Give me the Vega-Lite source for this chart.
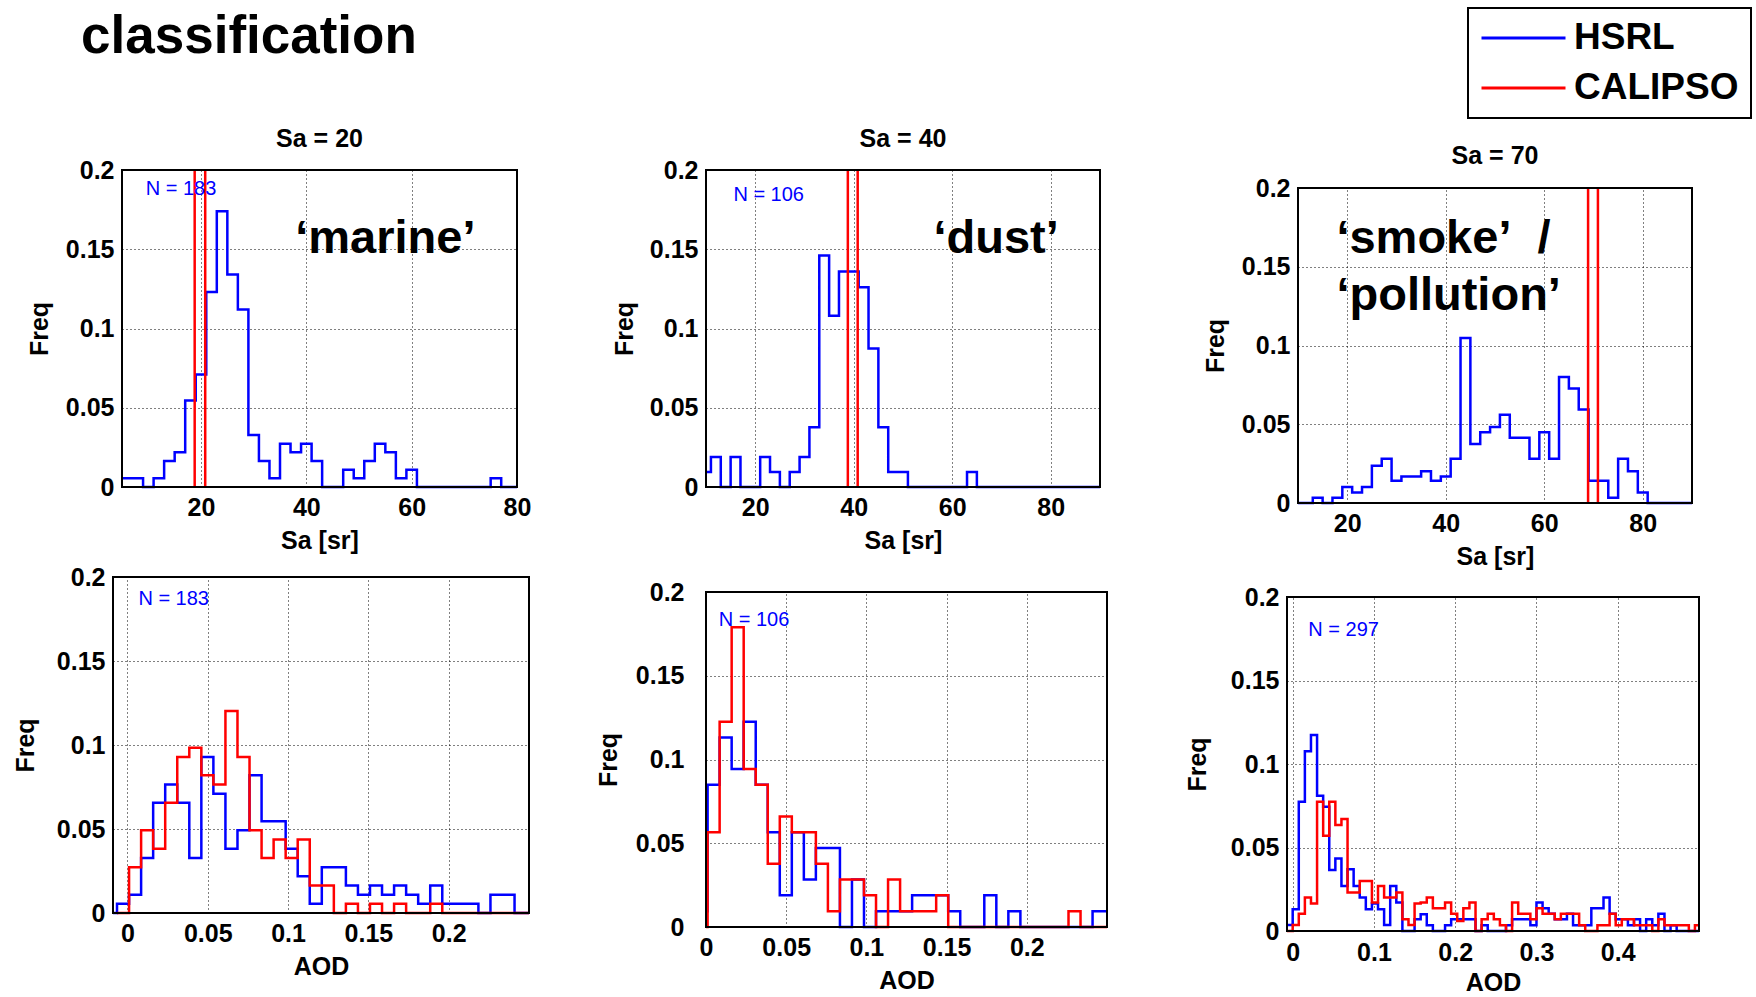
{
"$schema": "https://vega.github.io/schema/vega-lite/v6.json",
"width": 1756, "height": 997, "autosize": {"type": "none"}, "padding": 0, "background": "white",
"config": {
 "view": {"stroke": null},
 "axis": {"labelFont": "Liberation Sans", "labelFontSize": 25, "labelFontWeight": "bold", "labelColor": "black", "titleFont": "Liberation Sans", "titleFontSize": 25, "titleFontWeight": "bold", "titleColor": "black", "gridColor": "#000000", "gridDash": [1, 3], "gridOpacity": 1, "gridWidth": 1, "ticks": false, "domain": false, "labelFlush": false, "labelOverlap": false, "labelPadding": 8, "titlePadding": 8},
 "legend": {"strokeWidth": 2},
 "text": {"font": "Liberation Sans"}
},
"datasets": {
 "rules": [
  {"panel":"p1","series":"CALIPSO","x":18.8},{"panel":"p1","series":"CALIPSO","x":20.8},
  {"panel":"p2","series":"CALIPSO","x":38.8},{"panel":"p2","series":"CALIPSO","x":40.8},
  {"panel":"p3","series":"CALIPSO","x":68.9},{"panel":"p3","series":"CALIPSO","x":70.9}
 ],
 "hist": [
  {"panel":"p1","series":"HSRL","x":5,"y":0.0055},{"panel":"p1","series":"HSRL","x":9,"y":0},{"panel":"p1","series":"HSRL","x":11,"y":0.0055},{"panel":"p1","series":"HSRL","x":13,"y":0.0164},{"panel":"p1","series":"HSRL","x":15,"y":0.0219},{"panel":"p1","series":"HSRL","x":17,"y":0.0546},{"panel":"p1","series":"HSRL","x":19,"y":0.071},{"panel":"p1","series":"HSRL","x":21,"y":0.123},{"panel":"p1","series":"HSRL","x":23,"y":0.174},{"panel":"p1","series":"HSRL","x":25,"y":0.134},{"panel":"p1","series":"HSRL","x":27,"y":0.112},{"panel":"p1","series":"HSRL","x":29,"y":0.0328},{"panel":"p1","series":"HSRL","x":31,"y":0.0164},{"panel":"p1","series":"HSRL","x":33,"y":0.0055},{"panel":"p1","series":"HSRL","x":35,"y":0.0273},{"panel":"p1","series":"HSRL","x":37,"y":0.0219},{"panel":"p1","series":"HSRL","x":39,"y":0.0273},{"panel":"p1","series":"HSRL","x":41,"y":0.0164},{"panel":"p1","series":"HSRL","x":43,"y":0},{"panel":"p1","series":"HSRL","x":47,"y":0.0109},{"panel":"p1","series":"HSRL","x":49,"y":0.0055},{"panel":"p1","series":"HSRL","x":51,"y":0.0164},{"panel":"p1","series":"HSRL","x":53,"y":0.0273},{"panel":"p1","series":"HSRL","x":55,"y":0.0219},{"panel":"p1","series":"HSRL","x":57,"y":0.0055},{"panel":"p1","series":"HSRL","x":59,"y":0.0109},{"panel":"p1","series":"HSRL","x":61,"y":0},{"panel":"p1","series":"HSRL","x":75,"y":0.0055},{"panel":"p1","series":"HSRL","x":77,"y":0},{"panel":"p1","series":"HSRL","x":80,"y":0},

  {"panel":"p2","series":"HSRL","x":10,"y":0.0094},{"panel":"p2","series":"HSRL","x":11,"y":0.0189},{"panel":"p2","series":"HSRL","x":13,"y":0},{"panel":"p2","series":"HSRL","x":15,"y":0.0189},{"panel":"p2","series":"HSRL","x":17,"y":0},{"panel":"p2","series":"HSRL","x":21,"y":0.0189},{"panel":"p2","series":"HSRL","x":23,"y":0.0094},{"panel":"p2","series":"HSRL","x":25,"y":0},{"panel":"p2","series":"HSRL","x":27,"y":0.0094},{"panel":"p2","series":"HSRL","x":29,"y":0.0189},{"panel":"p2","series":"HSRL","x":31,"y":0.0377},{"panel":"p2","series":"HSRL","x":33,"y":0.146},{"panel":"p2","series":"HSRL","x":35,"y":0.108},{"panel":"p2","series":"HSRL","x":37,"y":0.136},{"panel":"p2","series":"HSRL","x":41,"y":0.126},{"panel":"p2","series":"HSRL","x":43,"y":0.0874},{"panel":"p2","series":"HSRL","x":45,"y":0.0377},{"panel":"p2","series":"HSRL","x":47,"y":0.0094},{"panel":"p2","series":"HSRL","x":51,"y":0},{"panel":"p2","series":"HSRL","x":63,"y":0.0094},{"panel":"p2","series":"HSRL","x":65,"y":0},{"panel":"p2","series":"HSRL","x":90,"y":0},

  {"panel":"p3","series":"HSRL","x":10,"y":0},{"panel":"p3","series":"HSRL","x":13,"y":0.0034},{"panel":"p3","series":"HSRL","x":15,"y":0},{"panel":"p3","series":"HSRL","x":17,"y":0.0034},{"panel":"p3","series":"HSRL","x":19,"y":0.0101},{"panel":"p3","series":"HSRL","x":21,"y":0.0067},{"panel":"p3","series":"HSRL","x":23,"y":0.0101},{"panel":"p3","series":"HSRL","x":25,"y":0.0236},{"panel":"p3","series":"HSRL","x":27,"y":0.0281},{"panel":"p3","series":"HSRL","x":29,"y":0.0141},{"panel":"p3","series":"HSRL","x":31,"y":0.0168},{"panel":"p3","series":"HSRL","x":35,"y":0.0202},{"panel":"p3","series":"HSRL","x":37,"y":0.0141},{"panel":"p3","series":"HSRL","x":39,"y":0.0168},{"panel":"p3","series":"HSRL","x":41,"y":0.0281},{"panel":"p3","series":"HSRL","x":43,"y":0.1047},{"panel":"p3","series":"HSRL","x":45,"y":0.0375},{"panel":"p3","series":"HSRL","x":47,"y":0.0449},{"panel":"p3","series":"HSRL","x":49,"y":0.0482},{"panel":"p3","series":"HSRL","x":51,"y":0.056},{"panel":"p3","series":"HSRL","x":53,"y":0.0415},{"panel":"p3","series":"HSRL","x":57,"y":0.0281},{"panel":"p3","series":"HSRL","x":59,"y":0.0449},{"panel":"p3","series":"HSRL","x":61,"y":0.0281},{"panel":"p3","series":"HSRL","x":63,"y":0.08},{"panel":"p3","series":"HSRL","x":65,"y":0.0727},{"panel":"p3","series":"HSRL","x":67,"y":0.0593},{"panel":"p3","series":"HSRL","x":69,"y":0.0141},{"panel":"p3","series":"HSRL","x":73,"y":0.0034},{"panel":"p3","series":"HSRL","x":75,"y":0.0281},{"panel":"p3","series":"HSRL","x":77,"y":0.0202},{"panel":"p3","series":"HSRL","x":79,"y":0.0067},{"panel":"p3","series":"HSRL","x":81,"y":0},{"panel":"p3","series":"HSRL","x":90,"y":0},

  {"panel":"p4","series":"HSRL","x":-0.009,"y":0},{"panel":"p4","series":"HSRL","x":-0.0065,"y":0.0055},{"panel":"p4","series":"HSRL","x":0.001,"y":0.0109},{"panel":"p4","series":"HSRL","x":0.0085,"y":0.0328},{"panel":"p4","series":"HSRL","x":0.016,"y":0.0656},{"panel":"p4","series":"HSRL","x":0.0235,"y":0.0765},{"panel":"p4","series":"HSRL","x":0.031,"y":0.0656},{"panel":"p4","series":"HSRL","x":0.0385,"y":0.0328},{"panel":"p4","series":"HSRL","x":0.046,"y":0.0929},{"panel":"p4","series":"HSRL","x":0.0535,"y":0.071},{"panel":"p4","series":"HSRL","x":0.061,"y":0.0383},{"panel":"p4","series":"HSRL","x":0.0685,"y":0.0492},{"panel":"p4","series":"HSRL","x":0.076,"y":0.082},{"panel":"p4","series":"HSRL","x":0.0835,"y":0.0546},{"panel":"p4","series":"HSRL","x":0.091,"y":0.0546},{"panel":"p4","series":"HSRL","x":0.0985,"y":0.0383},{"panel":"p4","series":"HSRL","x":0.106,"y":0.0219},{"panel":"p4","series":"HSRL","x":0.1135,"y":0.0055},{"panel":"p4","series":"HSRL","x":0.121,"y":0.0273},{"panel":"p4","series":"HSRL","x":0.1285,"y":0.0273},{"panel":"p4","series":"HSRL","x":0.136,"y":0.0164},{"panel":"p4","series":"HSRL","x":0.1435,"y":0.0109},{"panel":"p4","series":"HSRL","x":0.151,"y":0.0164},{"panel":"p4","series":"HSRL","x":0.1585,"y":0.0109},{"panel":"p4","series":"HSRL","x":0.166,"y":0.0164},{"panel":"p4","series":"HSRL","x":0.1735,"y":0.0109},{"panel":"p4","series":"HSRL","x":0.181,"y":0.0055},{"panel":"p4","series":"HSRL","x":0.1885,"y":0.0164},{"panel":"p4","series":"HSRL","x":0.196,"y":0.0055},{"panel":"p4","series":"HSRL","x":0.2035,"y":0.0055},{"panel":"p4","series":"HSRL","x":0.211,"y":0.0055},{"panel":"p4","series":"HSRL","x":0.2185,"y":0},{"panel":"p4","series":"HSRL","x":0.226,"y":0.0109},{"panel":"p4","series":"HSRL","x":0.2335,"y":0.0109},{"panel":"p4","series":"HSRL","x":0.241,"y":0},{"panel":"p4","series":"HSRL","x":0.25,"y":0},

  {"panel":"p4","series":"CALIPSO","x":-0.0065,"y":0},{"panel":"p4","series":"CALIPSO","x":0.001,"y":0.0273},{"panel":"p4","series":"CALIPSO","x":0.0085,"y":0.0492},{"panel":"p4","series":"CALIPSO","x":0.016,"y":0.0383},{"panel":"p4","series":"CALIPSO","x":0.0235,"y":0.0656},{"panel":"p4","series":"CALIPSO","x":0.031,"y":0.0929},{"panel":"p4","series":"CALIPSO","x":0.0385,"y":0.0984},{"panel":"p4","series":"CALIPSO","x":0.046,"y":0.082},{"panel":"p4","series":"CALIPSO","x":0.0535,"y":0.0765},{"panel":"p4","series":"CALIPSO","x":0.061,"y":0.1202},{"panel":"p4","series":"CALIPSO","x":0.0685,"y":0.0929},{"panel":"p4","series":"CALIPSO","x":0.076,"y":0.0492},{"panel":"p4","series":"CALIPSO","x":0.0835,"y":0.0328},{"panel":"p4","series":"CALIPSO","x":0.091,"y":0.0437},{"panel":"p4","series":"CALIPSO","x":0.0985,"y":0.0328},{"panel":"p4","series":"CALIPSO","x":0.106,"y":0.0437},{"panel":"p4","series":"CALIPSO","x":0.1135,"y":0.0164},{"panel":"p4","series":"CALIPSO","x":0.121,"y":0.0164},{"panel":"p4","series":"CALIPSO","x":0.1285,"y":0},{"panel":"p4","series":"CALIPSO","x":0.136,"y":0.0055},{"panel":"p4","series":"CALIPSO","x":0.1435,"y":0},{"panel":"p4","series":"CALIPSO","x":0.151,"y":0.0055},{"panel":"p4","series":"CALIPSO","x":0.1585,"y":0},{"panel":"p4","series":"CALIPSO","x":0.166,"y":0.0055},{"panel":"p4","series":"CALIPSO","x":0.1735,"y":0},{"panel":"p4","series":"CALIPSO","x":0.1885,"y":0.0055},{"panel":"p4","series":"CALIPSO","x":0.196,"y":0},{"panel":"p4","series":"CALIPSO","x":0.25,"y":0},

  {"panel":"p5","series":"HSRL","x":0,"y":0.0094},{"panel":"p5","series":"HSRL","x":0.001,"y":0.0849},{"panel":"p5","series":"HSRL","x":0.0085,"y":0.1132},{"panel":"p5","series":"HSRL","x":0.016,"y":0.0943},{"panel":"p5","series":"HSRL","x":0.0235,"y":0.1226},{"panel":"p5","series":"HSRL","x":0.031,"y":0.0849},{"panel":"p5","series":"HSRL","x":0.0385,"y":0.0566},{"panel":"p5","series":"HSRL","x":0.046,"y":0.0189},{"panel":"p5","series":"HSRL","x":0.0535,"y":0.0566},{"panel":"p5","series":"HSRL","x":0.061,"y":0.0283},{"panel":"p5","series":"HSRL","x":0.0685,"y":0.0472},{"panel":"p5","series":"HSRL","x":0.076,"y":0.0472},{"panel":"p5","series":"HSRL","x":0.0835,"y":0},{"panel":"p5","series":"HSRL","x":0.091,"y":0.0283},{"panel":"p5","series":"HSRL","x":0.0985,"y":0},{"panel":"p5","series":"HSRL","x":0.106,"y":0.0094},{"panel":"p5","series":"HSRL","x":0.1135,"y":0.0094},{"panel":"p5","series":"HSRL","x":0.121,"y":0.0094},{"panel":"p5","series":"HSRL","x":0.1285,"y":0.0189},{"panel":"p5","series":"HSRL","x":0.136,"y":0.0189},{"panel":"p5","series":"HSRL","x":0.1435,"y":0.0189},{"panel":"p5","series":"HSRL","x":0.151,"y":0.0094},{"panel":"p5","series":"HSRL","x":0.1585,"y":0},{"panel":"p5","series":"HSRL","x":0.1735,"y":0.0189},{"panel":"p5","series":"HSRL","x":0.181,"y":0},{"panel":"p5","series":"HSRL","x":0.1885,"y":0.0094},{"panel":"p5","series":"HSRL","x":0.196,"y":0},{"panel":"p5","series":"HSRL","x":0.241,"y":0.0094},{"panel":"p5","series":"HSRL","x":0.25,"y":0.0094},

  {"panel":"p5","series":"CALIPSO","x":0,"y":0},{"panel":"p5","series":"CALIPSO","x":0.001,"y":0.0566},{"panel":"p5","series":"CALIPSO","x":0.0085,"y":0.1226},{"panel":"p5","series":"CALIPSO","x":0.016,"y":0.179},{"panel":"p5","series":"CALIPSO","x":0.0235,"y":0.0943},{"panel":"p5","series":"CALIPSO","x":0.031,"y":0.0849},{"panel":"p5","series":"CALIPSO","x":0.0385,"y":0.0377},{"panel":"p5","series":"CALIPSO","x":0.046,"y":0.066},{"panel":"p5","series":"CALIPSO","x":0.0535,"y":0.0566},{"panel":"p5","series":"CALIPSO","x":0.061,"y":0.0566},{"panel":"p5","series":"CALIPSO","x":0.0685,"y":0.0377},{"panel":"p5","series":"CALIPSO","x":0.076,"y":0.0094},{"panel":"p5","series":"CALIPSO","x":0.0835,"y":0.0283},{"panel":"p5","series":"CALIPSO","x":0.091,"y":0.0283},{"panel":"p5","series":"CALIPSO","x":0.0985,"y":0.0189},{"panel":"p5","series":"CALIPSO","x":0.106,"y":0},{"panel":"p5","series":"CALIPSO","x":0.1135,"y":0.0283},{"panel":"p5","series":"CALIPSO","x":0.121,"y":0.0094},{"panel":"p5","series":"CALIPSO","x":0.1285,"y":0.0094},{"panel":"p5","series":"CALIPSO","x":0.136,"y":0.0094},{"panel":"p5","series":"CALIPSO","x":0.1435,"y":0.0189},{"panel":"p5","series":"CALIPSO","x":0.151,"y":0},{"panel":"p5","series":"CALIPSO","x":0.226,"y":0.0094},{"panel":"p5","series":"CALIPSO","x":0.2335,"y":0},{"panel":"p5","series":"CALIPSO","x":0.25,"y":0},

  {"panel":"p6","series":"HSRL","x":-0.007,"y":0.0036},{"panel":"p6","series":"HSRL","x":0,"y":0.013},{"panel":"p6","series":"HSRL","x":0.0075,"y":0.0774},{"panel":"p6","series":"HSRL","x":0.015,"y":0.1076},{"panel":"p6","series":"HSRL","x":0.0225,"y":0.1174},{"panel":"p6","series":"HSRL","x":0.03,"y":0.081},{"panel":"p6","series":"HSRL","x":0.0375,"y":0.0744},{"panel":"p6","series":"HSRL","x":0.045,"y":0.0366},{"panel":"p6","series":"HSRL","x":0.0525,"y":0.0434},{"panel":"p6","series":"HSRL","x":0.06,"y":0.027},{"panel":"p6","series":"HSRL","x":0.0675,"y":0.037},{"panel":"p6","series":"HSRL","x":0.075,"y":0.027},{"panel":"p6","series":"HSRL","x":0.0825,"y":0.02},{"panel":"p6","series":"HSRL","x":0.09,"y":0.013},{"panel":"p6","series":"HSRL","x":0.0975,"y":0.0164},{"panel":"p6","series":"HSRL","x":0.105,"y":0.013},{"panel":"p6","series":"HSRL","x":0.1125,"y":0.0036},{"panel":"p6","series":"HSRL","x":0.12,"y":0.027},{"panel":"p6","series":"HSRL","x":0.1275,"y":0.017},{"panel":"p6","series":"HSRL","x":0.135,"y":0},{"panel":"p6","series":"HSRL","x":0.15,"y":0.007},{"panel":"p6","series":"HSRL","x":0.1575,"y":0.01},{"panel":"p6","series":"HSRL","x":0.165,"y":0.0034},{"panel":"p6","series":"HSRL","x":0.1725,"y":0},{"panel":"p6","series":"HSRL","x":0.1875,"y":0.0034},{"panel":"p6","series":"HSRL","x":0.195,"y":0.007},{"panel":"p6","series":"HSRL","x":0.2025,"y":0.007},{"panel":"p6","series":"HSRL","x":0.21,"y":0.007},{"panel":"p6","series":"HSRL","x":0.2175,"y":0.007},{"panel":"p6","series":"HSRL","x":0.225,"y":0},{"panel":"p6","series":"HSRL","x":0.2325,"y":0.0034},{"panel":"p6","series":"HSRL","x":0.24,"y":0},{"panel":"p6","series":"HSRL","x":0.2625,"y":0.0034},{"panel":"p6","series":"HSRL","x":0.27,"y":0.007},{"panel":"p6","series":"HSRL","x":0.2775,"y":0.007},{"panel":"p6","series":"HSRL","x":0.285,"y":0.007},{"panel":"p6","series":"HSRL","x":0.2925,"y":0.0034},{"panel":"p6","series":"HSRL","x":0.3,"y":0.017},{"panel":"p6","series":"HSRL","x":0.3075,"y":0.0136},{"panel":"p6","series":"HSRL","x":0.315,"y":0.0104},{"panel":"p6","series":"HSRL","x":0.3225,"y":0.007},{"panel":"p6","series":"HSRL","x":0.33,"y":0.007},{"panel":"p6","series":"HSRL","x":0.3375,"y":0.0104},{"panel":"p6","series":"HSRL","x":0.345,"y":0.0034},{"panel":"p6","series":"HSRL","x":0.3525,"y":0.0034},{"panel":"p6","series":"HSRL","x":0.36,"y":0.0034},{"panel":"p6","series":"HSRL","x":0.3675,"y":0.0136},{"panel":"p6","series":"HSRL","x":0.375,"y":0.0136},{"panel":"p6","series":"HSRL","x":0.3825,"y":0.02},{"panel":"p6","series":"HSRL","x":0.39,"y":0.0104},{"panel":"p6","series":"HSRL","x":0.3975,"y":0.007},{"panel":"p6","series":"HSRL","x":0.405,"y":0.007},{"panel":"p6","series":"HSRL","x":0.4125,"y":0.0034},{"panel":"p6","series":"HSRL","x":0.42,"y":0.007},{"panel":"p6","series":"HSRL","x":0.4275,"y":0},{"panel":"p6","series":"HSRL","x":0.435,"y":0.007},{"panel":"p6","series":"HSRL","x":0.4425,"y":0.0034},{"panel":"p6","series":"HSRL","x":0.45,"y":0.0104},{"panel":"p6","series":"HSRL","x":0.4575,"y":0},{"panel":"p6","series":"HSRL","x":0.465,"y":0.0034},{"panel":"p6","series":"HSRL","x":0.4725,"y":0},{"panel":"p6","series":"HSRL","x":0.5,"y":0},

  {"panel":"p6","series":"CALIPSO","x":-0.007,"y":0},{"panel":"p6","series":"CALIPSO","x":0,"y":0.0036},{"panel":"p6","series":"CALIPSO","x":0.0075,"y":0.0104},{"panel":"p6","series":"CALIPSO","x":0.015,"y":0.02},{"panel":"p6","series":"CALIPSO","x":0.0225,"y":0.0164},{"panel":"p6","series":"CALIPSO","x":0.03,"y":0.0774},{"panel":"p6","series":"CALIPSO","x":0.0375,"y":0.057},{"panel":"p6","series":"CALIPSO","x":0.045,"y":0.0774},{"panel":"p6","series":"CALIPSO","x":0.0525,"y":0.0634},{"panel":"p6","series":"CALIPSO","x":0.06,"y":0.067},{"panel":"p6","series":"CALIPSO","x":0.0675,"y":0.023},{"panel":"p6","series":"CALIPSO","x":0.075,"y":0.023},{"panel":"p6","series":"CALIPSO","x":0.0825,"y":0.03},{"panel":"p6","series":"CALIPSO","x":0.09,"y":0.03},{"panel":"p6","series":"CALIPSO","x":0.0975,"y":0.017},{"panel":"p6","series":"CALIPSO","x":0.105,"y":0.027},{"panel":"p6","series":"CALIPSO","x":0.1125,"y":0.02},{"panel":"p6","series":"CALIPSO","x":0.12,"y":0.02},{"panel":"p6","series":"CALIPSO","x":0.1275,"y":0.023},{"panel":"p6","series":"CALIPSO","x":0.135,"y":0.007},{"panel":"p6","series":"CALIPSO","x":0.1425,"y":0.0036},{"panel":"p6","series":"CALIPSO","x":0.15,"y":0.0164},{"panel":"p6","series":"CALIPSO","x":0.1575,"y":0.017},{"panel":"p6","series":"CALIPSO","x":0.165,"y":0.02},{"panel":"p6","series":"CALIPSO","x":0.1725,"y":0.0136},{"panel":"p6","series":"CALIPSO","x":0.18,"y":0.0136},{"panel":"p6","series":"CALIPSO","x":0.1875,"y":0.017},{"panel":"p6","series":"CALIPSO","x":0.195,"y":0.0104},{"panel":"p6","series":"CALIPSO","x":0.2025,"y":0.006},{"panel":"p6","series":"CALIPSO","x":0.21,"y":0.0136},{"panel":"p6","series":"CALIPSO","x":0.2175,"y":0.017},{"panel":"p6","series":"CALIPSO","x":0.225,"y":0},{"panel":"p6","series":"CALIPSO","x":0.2325,"y":0.007},{"panel":"p6","series":"CALIPSO","x":0.24,"y":0.0104},{"panel":"p6","series":"CALIPSO","x":0.2475,"y":0.007},{"panel":"p6","series":"CALIPSO","x":0.255,"y":0.0034},{"panel":"p6","series":"CALIPSO","x":0.2625,"y":0},{"panel":"p6","series":"CALIPSO","x":0.27,"y":0.017},{"panel":"p6","series":"CALIPSO","x":0.2775,"y":0.0104},{"panel":"p6","series":"CALIPSO","x":0.285,"y":0.0104},{"panel":"p6","series":"CALIPSO","x":0.2925,"y":0.007},{"panel":"p6","series":"CALIPSO","x":0.3,"y":0.0136},{"panel":"p6","series":"CALIPSO","x":0.3075,"y":0.0104},{"panel":"p6","series":"CALIPSO","x":0.315,"y":0.0104},{"panel":"p6","series":"CALIPSO","x":0.3225,"y":0.007},{"panel":"p6","series":"CALIPSO","x":0.33,"y":0.0104},{"panel":"p6","series":"CALIPSO","x":0.3375,"y":0.0104},{"panel":"p6","series":"CALIPSO","x":0.345,"y":0.0104},{"panel":"p6","series":"CALIPSO","x":0.3525,"y":0.0034},{"panel":"p6","series":"CALIPSO","x":0.36,"y":0},{"panel":"p6","series":"CALIPSO","x":0.375,"y":0.0034},{"panel":"p6","series":"CALIPSO","x":0.3825,"y":0.0034},{"panel":"p6","series":"CALIPSO","x":0.39,"y":0.0104},{"panel":"p6","series":"CALIPSO","x":0.3975,"y":0.0034},{"panel":"p6","series":"CALIPSO","x":0.405,"y":0.007},{"panel":"p6","series":"CALIPSO","x":0.4125,"y":0.007},{"panel":"p6","series":"CALIPSO","x":0.42,"y":0.0034},{"panel":"p6","series":"CALIPSO","x":0.4425,"y":0},{"panel":"p6","series":"CALIPSO","x":0.45,"y":0.007},{"panel":"p6","series":"CALIPSO","x":0.4575,"y":0.0034},{"panel":"p6","series":"CALIPSO","x":0.4875,"y":0},{"panel":"p6","series":"CALIPSO","x":0.495,"y":0.0034},{"panel":"p6","series":"CALIPSO","x":0.5,"y":0.0034}
 ]
},
"resolve": {"scale": {"x": "independent", "y": "independent"}, "axis": {"x": "independent", "y": "independent"}},
"layer": [
 {"layer": [
  {"data": {"name": "hist"}, "transform": [{"filter": "datum.panel === 'p1'"}],
   "mark": {"type": "line", "interpolate": "step-after", "strokeWidth": 2.5},
   "encoding": {
    "x": {"field": "x", "type": "quantitative", "scale": {"domain": [5, 80], "range": [122, 517], "nice": false, "zero": false}, "axis": {"orient": "bottom", "offset": -510, "values": [20, 40, 60, 80], "format": "d", "title": "Sa [sr]", "grid": false}},
    "y": {"field": "y", "type": "quantitative", "scale": {"domain": [0, 0.2], "range": [487, 170], "nice": false, "zero": false}, "axis": {"orient": "left", "offset": -122, "values": [0, 0.05, 0.1, 0.15, 0.2], "format": ".2~f", "title": "Freq", "grid": true, "titlePadding": 13}},
    "color": {"field": "series", "type": "nominal", "scale": {"domain": ["HSRL", "CALIPSO"], "range": ["#0000ff", "#ff0000"]},
      "legend": {"title": null, "orient": "none", "legendX": 1468, "legendY": 8, "symbolType": "stroke", "symbolSize": 7056, "symbolStrokeWidth": 3, "clipHeight": 36, "rowPadding": 13, "padding": 12, "labelFont": "Liberation Sans", "labelFontSize": 37, "labelFontWeight": "bold", "labelColor": "black", "labelOffset": 7, "labelLimit": 0, "strokeColor": "black", "fillColor": "white"}}
   }},
  {"data": {"name": "rules"}, "transform": [{"filter": "datum.panel === 'p1'"}],
   "mark": {"type": "rule", "strokeWidth": 2.5},
   "encoding": {"x": {"field": "x", "type": "quantitative", "axis": null}, "y": {"datum": 0}, "y2": {"datum": 0.2}, "color": {"field": "series", "type": "nominal"}}},
  {"data": {"values": [{}]}, "mark": {"type": "text", "align": "left", "baseline": "alphabetic", "fontSize": 20, "color": "#0000ff"},
   "encoding": {"x": {"datum": 9.5, "axis": null}, "y": {"datum": 0.1842}, "text": {"value": "N = 183"}}},
  {"data": {"values": [{}]}, "mark": {"type": "text", "align": "center", "baseline": "alphabetic", "fontSize": 47, "fontWeight": "bold", "color": "black"},
   "encoding": {"x": {"datum": 55, "axis": null}, "y": {"datum": 0.1474}, "text": {"value": "‘marine’"}}},
  {"data": {"values": [{}]}, "mark": {"type": "text", "align": "center", "baseline": "alphabetic", "fontSize": 25, "fontWeight": "bold", "color": "black"},
   "encoding": {"x": {"datum": 42.5, "axis": null}, "y": {"datum": 0.2147}, "text": {"value": "Sa = 20"}}},
  {"data": {"values": [{}]}, "mark": {"type": "text", "align": "left", "baseline": "alphabetic", "fontSize": 53, "fontWeight": "bold", "color": "black"},
   "encoding": {"x": {"datum": -2.78, "axis": null}, "y": {"datum": 0.2741}, "text": {"value": "classification"}}},
  {"data": {"values": [{}]}, "mark": {"type": "rect", "fillOpacity": 0, "stroke": "black", "strokeWidth": 2},
   "encoding": {"x": {"datum": 5, "axis": {"orient": "top", "offset": -170, "values": [20, 40, 60, 80], "grid": true, "labels": false, "title": null}}, "x2": {"datum": 80}, "y": {"datum": 0}, "y2": {"datum": 0.2}}}
 ]},
 {"layer": [
  {"data": {"name": "hist"}, "transform": [{"filter": "datum.panel === 'p2'"}],
   "mark": {"type": "line", "interpolate": "step-after", "strokeWidth": 2.5},
   "encoding": {
    "x": {"field": "x", "type": "quantitative", "scale": {"domain": [10, 90], "range": [706, 1100], "nice": false, "zero": false}, "axis": {"orient": "bottom", "offset": -510, "values": [20, 40, 60, 80], "format": "d", "title": "Sa [sr]", "grid": false}},
    "y": {"field": "y", "type": "quantitative", "scale": {"domain": [0, 0.2], "range": [487, 170], "nice": false, "zero": false}, "axis": {"orient": "left", "offset": -706, "values": [0, 0.05, 0.1, 0.15, 0.2], "format": ".2~f", "title": "Freq", "grid": true, "titlePadding": 12}},
    "color": {"field": "series", "type": "nominal"}
   }},
  {"data": {"name": "rules"}, "transform": [{"filter": "datum.panel === 'p2'"}],
   "mark": {"type": "rule", "strokeWidth": 2.5},
   "encoding": {"x": {"field": "x", "type": "quantitative", "axis": null}, "y": {"datum": 0}, "y2": {"datum": 0.2}, "color": {"field": "series", "type": "nominal"}}},
  {"data": {"values": [{}]}, "mark": {"type": "text", "align": "left", "baseline": "alphabetic", "fontSize": 20, "color": "#0000ff"},
   "encoding": {"x": {"datum": 15.56, "axis": null}, "y": {"datum": 0.1806}, "text": {"value": "N = 106"}}},
  {"data": {"values": [{}]}, "mark": {"type": "text", "align": "center", "baseline": "alphabetic", "fontSize": 47, "fontWeight": "bold", "color": "black"},
   "encoding": {"x": {"datum": 68.9, "axis": null}, "y": {"datum": 0.1474}, "text": {"value": "‘dust’"}}},
  {"data": {"values": [{}]}, "mark": {"type": "text", "align": "center", "baseline": "alphabetic", "fontSize": 25, "fontWeight": "bold", "color": "black"},
   "encoding": {"x": {"datum": 50, "axis": null}, "y": {"datum": 0.2147}, "text": {"value": "Sa = 40"}}},
  {"data": {"values": [{}]}, "mark": {"type": "rect", "fillOpacity": 0, "stroke": "black", "strokeWidth": 2},
   "encoding": {"x": {"datum": 10, "axis": {"orient": "top", "offset": -170, "values": [20, 40, 60, 80], "grid": true, "labels": false, "title": null}}, "x2": {"datum": 90}, "y": {"datum": 0}, "y2": {"datum": 0.2}}}
 ]},
 {"layer": [
  {"data": {"name": "hist"}, "transform": [{"filter": "datum.panel === 'p3'"}],
   "mark": {"type": "line", "interpolate": "step-after", "strokeWidth": 2.5},
   "encoding": {
    "x": {"field": "x", "type": "quantitative", "scale": {"domain": [10, 90], "range": [1298, 1692], "nice": false, "zero": false}, "axis": {"orient": "bottom", "offset": -494, "values": [20, 40, 60, 80], "format": "d", "title": "Sa [sr]", "grid": false}},
    "y": {"field": "y", "type": "quantitative", "scale": {"domain": [0, 0.2], "range": [503, 188], "nice": false, "zero": false}, "axis": {"orient": "left", "offset": -1298, "values": [0, 0.05, 0.1, 0.15, 0.2], "format": ".2~f", "title": "Freq", "grid": true, "titlePadding": 13}},
    "color": {"field": "series", "type": "nominal"}
   }},
  {"data": {"name": "rules"}, "transform": [{"filter": "datum.panel === 'p3'"}],
   "mark": {"type": "rule", "strokeWidth": 2.5},
   "encoding": {"x": {"field": "x", "type": "quantitative", "axis": null}, "y": {"datum": 0}, "y2": {"datum": 0.2}, "color": {"field": "series", "type": "nominal"}}},
  {"data": {"values": [{}]}, "mark": {"type": "text", "align": "left", "baseline": "alphabetic", "fontSize": 47, "fontWeight": "bold", "color": "black", "lineHeight": 57},
   "encoding": {"x": {"datum": 17.8, "axis": null}, "y": {"datum": 0.1587}, "text": {"value": ["‘smoke’\u00a0 /", "‘pollution’"]}}},
  {"data": {"values": [{}]}, "mark": {"type": "text", "align": "center", "baseline": "alphabetic", "fontSize": 25, "fontWeight": "bold", "color": "black"},
   "encoding": {"x": {"datum": 50, "axis": null}, "y": {"datum": 0.215}, "text": {"value": "Sa = 70"}}},
  {"data": {"values": [{}]}, "mark": {"type": "rect", "fillOpacity": 0, "stroke": "black", "strokeWidth": 2},
   "encoding": {"x": {"datum": 10, "axis": {"orient": "top", "offset": -188, "values": [20, 40, 60, 80], "grid": true, "labels": false, "title": null}}, "x2": {"datum": 90}, "y": {"datum": 0}, "y2": {"datum": 0.2}}}
 ]},
 {"layer": [
  {"data": {"name": "hist"}, "transform": [{"filter": "datum.panel === 'p4'"}],
   "mark": {"type": "line", "interpolate": "step-after", "strokeWidth": 2.5},
   "encoding": {
    "x": {"field": "x", "type": "quantitative", "scale": {"domain": [-0.009, 0.25], "range": [113, 529], "nice": false, "zero": false}, "axis": {"orient": "bottom", "offset": -84, "values": [0, 0.05, 0.1, 0.15, 0.2], "format": ".2~f", "title": "AOD", "grid": false}},
    "y": {"field": "y", "type": "quantitative", "scale": {"domain": [0, 0.2], "range": [913, 577], "nice": false, "zero": false}, "axis": {"orient": "left", "offset": -113, "values": [0, 0.05, 0.1, 0.15, 0.2], "format": ".2~f", "title": "Freq", "grid": true, "titlePadding": 18}},
    "color": {"field": "series", "type": "nominal"}
   }},
  {"data": {"values": [{}]}, "mark": {"type": "text", "align": "left", "baseline": "alphabetic", "fontSize": 20, "color": "#0000ff"},
   "encoding": {"x": {"datum": 0.0068, "axis": null}, "y": {"datum": 0.1833}, "text": {"value": "N = 183"}}},
  {"data": {"values": [{}]}, "mark": {"type": "rect", "fillOpacity": 0, "stroke": "black", "strokeWidth": 2},
   "encoding": {"x": {"datum": -0.009, "axis": {"orient": "top", "offset": -577, "values": [0, 0.05, 0.1, 0.15, 0.2], "grid": true, "labels": false, "title": null}}, "x2": {"datum": 0.25}, "y": {"datum": 0}, "y2": {"datum": 0.2}}}
 ]},
 {"layer": [
  {"data": {"name": "hist"}, "transform": [{"filter": "datum.panel === 'p5'"}],
   "mark": {"type": "line", "interpolate": "step-after", "strokeWidth": 2.5},
   "encoding": {
    "x": {"field": "x", "type": "quantitative", "scale": {"domain": [0, 0.25], "range": [706, 1107], "nice": false, "zero": false}, "axis": {"orient": "bottom", "offset": -70, "values": [0, 0.05, 0.1, 0.15, 0.2], "format": ".2~f", "title": "AOD", "grid": false}},
    "y": {"field": "y", "type": "quantitative", "scale": {"domain": [0, 0.2], "range": [927, 592], "nice": false, "zero": false}, "axis": {"orient": "left", "offset": -706, "values": [0, 0.05, 0.1, 0.15, 0.2], "format": ".2~f", "title": "Freq", "grid": true, "labelPadding": 22, "titlePadding": 14}},
    "color": {"field": "series", "type": "nominal"}
   }},
  {"data": {"values": [{}]}, "mark": {"type": "text", "align": "left", "baseline": "alphabetic", "fontSize": 20, "color": "#0000ff"},
   "encoding": {"x": {"datum": 0.0079, "axis": null}, "y": {"datum": 0.18}, "text": {"value": "N = 106"}}},
  {"data": {"values": [{}]}, "mark": {"type": "rect", "fillOpacity": 0, "stroke": "black", "strokeWidth": 2},
   "encoding": {"x": {"datum": 0, "axis": {"orient": "top", "offset": -592, "values": [0, 0.05, 0.1, 0.15, 0.2], "grid": true, "labels": false, "title": null}}, "x2": {"datum": 0.25}, "y": {"datum": 0}, "y2": {"datum": 0.2}}}
 ]},
 {"layer": [
  {"data": {"name": "hist"}, "transform": [{"filter": "datum.panel === 'p6'"}],
   "mark": {"type": "line", "interpolate": "step-after", "strokeWidth": 2.5},
   "encoding": {
    "x": {"field": "x", "type": "quantitative", "scale": {"domain": [-0.007, 0.5], "range": [1287, 1699], "nice": false, "zero": false}, "axis": {"orient": "bottom", "offset": -66, "values": [0, 0.1, 0.2, 0.3, 0.4], "format": ".1~f", "title": "AOD", "grid": false, "labelPadding": 9, "titlePadding": 5}},
    "y": {"field": "y", "type": "quantitative", "scale": {"domain": [0, 0.2], "range": [931, 597], "nice": false, "zero": false}, "axis": {"orient": "left", "offset": -1287, "values": [0, 0.05, 0.1, 0.15, 0.2], "format": ".2~f", "title": "Freq", "grid": true, "titlePadding": 20}},
    "color": {"field": "series", "type": "nominal"}
   }},
  {"data": {"values": [{}]}, "mark": {"type": "text", "align": "left", "baseline": "alphabetic", "fontSize": 20, "color": "#0000ff"},
   "encoding": {"x": {"datum": 0.0192, "axis": null}, "y": {"datum": 0.1764}, "text": {"value": "N = 297"}}},
  {"data": {"values": [{}]}, "mark": {"type": "rect", "fillOpacity": 0, "stroke": "black", "strokeWidth": 2},
   "encoding": {"x": {"datum": -0.007, "axis": {"orient": "top", "offset": -597, "values": [0, 0.1, 0.2, 0.3, 0.4], "grid": true, "labels": false, "title": null}}, "x2": {"datum": 0.5}, "y": {"datum": 0}, "y2": {"datum": 0.2}}}
 ]}
]
}
